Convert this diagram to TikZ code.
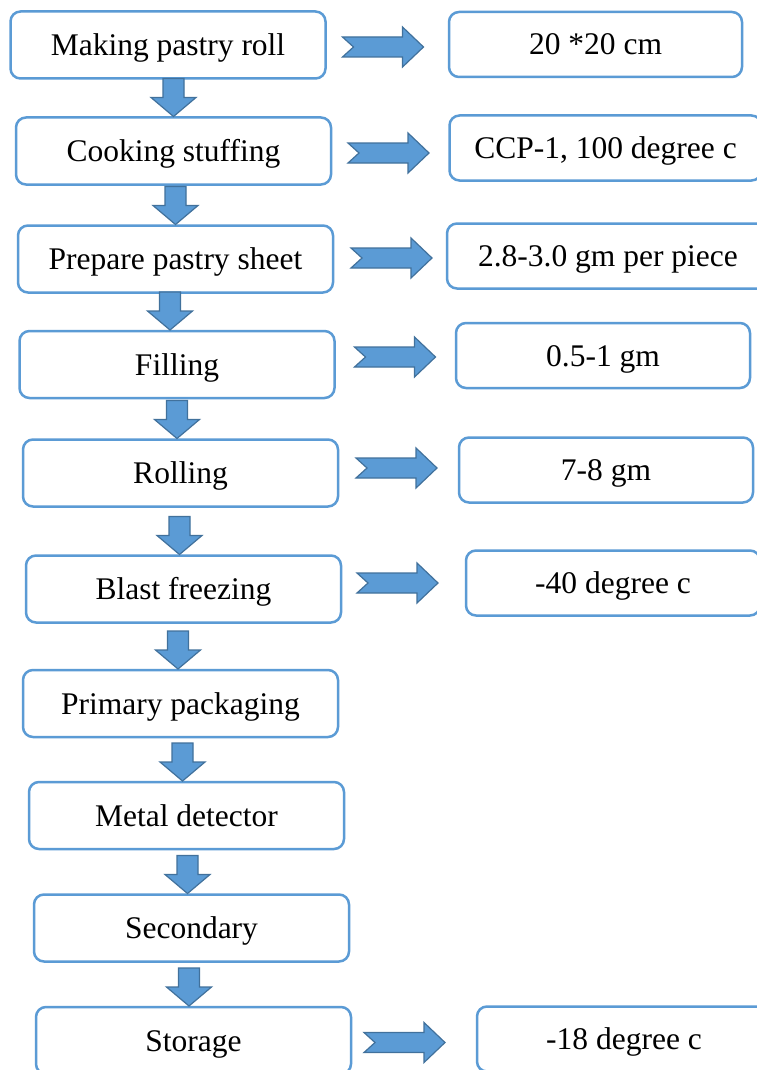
\documentclass[tikz,border=0pt]{standalone}
\usepackage{fontspec}
\setmainfont{Liberation Serif}
\usetikzlibrary{calc}

\definecolor{boxblue}{RGB}{91,155,213}
\definecolor{edgeblue}{RGB}{65,113,156}

\begin{document}
\begin{tikzpicture}[x=1pt,y=1pt,
    stepbox/.style={draw=boxblue, line width=2.5pt, rounded corners=10pt, fill=white,
        minimum width=315pt, minimum height=67pt, outer sep=0pt, inner sep=0pt,
        font=\fontsize{31.5}{36}\selectfont, text height=21pt, text depth=0pt},
    notebox/.style={stepbox, minimum height=65pt},
    blockarrow/.style={fill=boxblue, draw=edgeblue, line width=1.2pt, line join=miter},
    rarrow/.style={blockarrow, to path={let \p1=(\tikztostart) in
        (\x1,\y1+10pt) -- (\x1+60pt,\y1+10pt) -- (\x1+60pt,\y1+20pt) -- (\x1+81pt,\y1)
        -- (\x1+60pt,\y1-20pt) -- (\x1+60pt,\y1-10pt) -- (\x1,\y1-10pt) -- (\x1+11pt,\y1) -- cycle}},
    darrow/.style={blockarrow, to path={let \p2=(\tikztotarget) in
        (\x2-10.5pt,\y2+38pt) -- (\x2+10.5pt,\y2+38pt) -- (\x2+10.5pt,\y2+19pt) -- (\x2+22.5pt,\y2+19pt)
        -- (\x2,\y2) -- (\x2-22.5pt,\y2+19pt) -- (\x2-10.5pt,\y2+19pt) -- cycle}}]

    % page
    \useasboundingbox (0,0) rectangle (757,-1070);
    \fill[white] (0,0) rectangle (757,-1070);
    \clip (0,0) rectangle (757,-1070);

    % process steps
    \foreach \n/\x/\y/\txt in {
        1/168/45/Making pastry roll, 2/173.5/151/Cooking stuffing,
        3/175.5/259/Prepare pastry sheet, 4/177/364.5/Filling,
        5/180.5/473/Rolling, 6/183.5/589/Blast freezing,
        7/180.5/703.5/Primary packaging, 8/186.5/815.5/Metal detector,
        9/191.5/928/Secondary, 10/193.5/1040.5/Storage}
        \node[stepbox] (s\n) at (\x,-\y) {\txt};

    % values
    \foreach \n/\x/\y/\w/\txt in {
        1/595.5/44.5/293/20 *20 cm, 2/605.5/148/312/{CCP-1, 100 degree c},
        3/608/256/322/2.8-3.0 gm per piece, 4/603/355.5/294/0.5-1 gm,
        5/606/470/294/7-8 gm, 6/613/583/294/-40 degree c,
        10/624/1039/294/-18 degree c}
        \node[notebox, minimum width=\w pt] (v\n) at (\x,-\y) {\txt};

    % arrows to the values
    \foreach \n/\dx/\dy in {1/17/-2, 2/17/-2, 3/18/1, 4/20/7.5, 5/18/5, 6/16/6, 10/13/-2}
        \draw[rarrow] ($(s\n.east)+(\dx,\dy)$) to (v\n);

    % arrows down the chain
    \foreach \a/\b/\dx in {1/2/0, 2/3/0, 3/4/-7, 4/5/-3.5, 5/6/-4, 6/7/-2.5, 7/8/-4, 8/9/-4, 9/10/-4.5}
        \draw[darrow] (s\a) to ($(s\b.north)+(\dx,1)$);
\end{tikzpicture}
\end{document}
